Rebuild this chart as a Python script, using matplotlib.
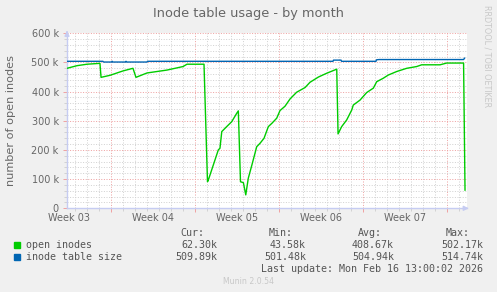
import matplotlib
matplotlib.use('Agg')
import matplotlib.pyplot as plt
import matplotlib.transforms as mtransforms
from matplotlib.ticker import FixedLocator, NullFormatter

# time axis: days since the start of Week 04
green_days = [-3.67, -2.83, -2.0, -0.92, -0.83, -0.08, 1.0, 1.83, 2.08, 3.0, 4.67, 6.0, 6.33,
              7.75, 8.04, 8.11, 8.53, 8.94, 9.08, 9.23, 9.64, 10.06, 10.48, 10.61, 10.79, 11.03,
              11.23, 11.44, 11.75, 12.14, 12.42, 12.75, 13.11, 13.42, 13.81, 14.08, 14.5, 14.92,
              15.47, 16.17, 16.58, 17.28, 17.97, 18.81, 18.92, 19.22, 19.64, 20.06, 20.19, 20.75,
              21.31, 21.86, 22.14, 22.69, 23.11, 23.81, 24.64, 25.47, 25.89, 27.42, 27.97, 29.38,
              29.5]
green_k = [480, 489, 494, 497, 449, 456, 471, 480, 449, 464, 474, 486, 494,
           494, 91, 97, 149, 200, 206, 263, 280, 297, 326, 334, 91, 88,
           46, 103, 150, 211, 223, 240, 280, 292, 309, 335, 350, 375,
           398, 414, 432, 450, 463, 477, 255, 280, 303, 337, 354, 371,
           397, 412, 434, 446, 457, 469, 480, 486, 492, 492, 498, 498,
           62.3]

blue_days = [-3.67, -0.67, -0.62, 0.05, 0.1, 0.15, 1.2, 1.25, 1.3, 3.0, 3.04, 18.5, 18.54,
             19.17, 19.21, 22.08, 22.12, 22.33, 29.38, 29.46]
blue_k = [504, 504, 501.5, 501.5, 504, 501.5, 501.5, 504, 501.5, 501.5, 504, 504, 508,
          508, 504, 504, 509, 510, 510, 514.7]

week_starts = [0, 7, 14, 21, 28]
week_labels = ['Week 03', 'Week 04', 'Week 05', 'Week 06', 'Week 07']
week_label_pos = [-3.5, 3.5, 10.5, 17.5, 24.5]
y_ticks = [0, 100, 200, 300, 400, 500, 600]
y_labels = ['0', '100 k', '200 k', '300 k', '400 k', '500 k', '600 k']

legend_rows = [
    ('open inodes', '#00CC00', '62.30k', '43.58k', '408.67k', '502.17k'),
    ('inode table size', '#0066B3', '509.89k', '501.48k', '504.94k', '514.74k'),
]

W, H = 497, 292
BG = '#F0F0F0'
FONT = '#666666'
AXIS = '#C6CCF2'
GRID = '#D2D2D2'
MGRID = '#EFA3A3'


def fx(x):
    return x / W


def fy(y):
    return 1 - y / H


fig = plt.figure(figsize=(W / 100, H / 100), dpi=100, facecolor=BG)
left, right, top, bottom = 67, 466.7, 33.3, 208.3
ax = fig.add_axes([fx(left), fy(bottom), fx(right - left), (bottom - top) / H])
ax.set_facecolor('white')

ax.set_xlim(-3.667, 29.64)
ax.set_ylim(0, 600)

# grid: days / weeks, 20k / 100k
ax.xaxis.set_major_locator(FixedLocator(week_starts))
ax.xaxis.set_minor_locator(FixedLocator([d for d in range(-3, 30) if d % 7 != 0]))
ax.yaxis.set_major_locator(FixedLocator(y_ticks))
ax.yaxis.set_minor_locator(FixedLocator([v for v in range(20, 600, 20) if v % 100 != 0]))
ax.grid(which='minor', color=GRID, linestyle=(0, (1, 1.6)), linewidth=0.72)
ax.grid(which='major', color=MGRID, linestyle=(0, (1, 1.6)), linewidth=0.72)
ax.set_axisbelow(True)

ax.xaxis.set_major_formatter(NullFormatter())
ax.set_yticklabels(y_labels)
ax.tick_params(axis='y', which='major', length=3, width=0.72, color=MGRID,
               labelsize=7, labelcolor=FONT, pad=3)
ax.tick_params(axis='y', which='minor', length=2, width=0.72, color=GRID)
ax.tick_params(axis='x', which='major', length=3, width=0.72, color=MGRID)
ax.tick_params(axis='x', which='minor', length=2, width=0.72, color=GRID)

trans = mtransforms.blended_transform_factory(ax.transData, ax.transAxes)
for pos, lab in zip(week_label_pos, week_labels):
    ax.text(pos, -0.055, lab, transform=trans, ha='center', va='center',
            fontsize=7, color=FONT)

for s in ['top', 'right']:
    ax.spines[s].set_visible(False)
for s in ['left', 'bottom']:
    ax.spines[s].set_color(AXIS)
    ax.spines[s].set_linewidth(1)

# axis arrows
ax.annotate('', xy=(1.012, 0), xytext=(0.99, 0), xycoords='axes fraction',
            arrowprops=dict(arrowstyle='-|>', color=AXIS, lw=1, mutation_scale=7),
            annotation_clip=False)
ax.annotate('', xy=(0, 1.03), xytext=(0, 0.99), xycoords='axes fraction',
            arrowprops=dict(arrowstyle='-|>', color=AXIS, lw=1, mutation_scale=7),
            annotation_clip=False)

ax.plot(green_days, green_k, color='#00CC00', linewidth=1.0, zorder=3)
ax.plot(blue_days, blue_k, color='#0066B3', linewidth=1.0, zorder=3)

# titles
fig.text(fx(248.5), fy(13), 'Inode table usage - by month', ha='center', va='center',
         fontsize=9.3, color=FONT)
fig.text(fx(11.5), fy(120), 'number of open inodes', rotation=90, ha='center', va='center',
         fontsize=8.1, color=FONT)
fig.text(fx(487.5), fy(56), 'RRDTOOL / TOBI OETIKER', rotation=-90, ha='center', va='center',
         fontsize=5.8, color='#C8C8C8')

# legend
mono = dict(family='DejaVu Sans Mono', fontsize=7.2, color='#555555', va='center')
for name, xr in [('Cur:', 204), ('Min:', 293), ('Avg:', 382), ('Max:', 470)]:
    fig.text(fx(xr), fy(232.7), name, ha='right', **mono)
for i, (name, col, cur, mn, avg, mx) in enumerate(legend_rows):
    yy = 244.7 + 12 * i
    fig.patches.append(plt.Rectangle((fx(14), fy(yy + 3)), fx(6), 6 / H, color=col,
                                     transform=fig.transFigure, figure=fig))
    fig.text(fx(26), fy(yy), name, ha='left', **mono)
    for v, xr in zip([cur, mn, avg, mx], [217, 306, 394, 483]):
        fig.text(fx(xr), fy(yy), v, ha='right', **mono)
fig.text(fx(483), fy(268.7), 'Last update: Mon Feb 16 13:00:02 2026', ha='right', **mono)
fig.text(fx(248.5), fy(281), 'Munin 2.0.54', ha='center', va='center', fontsize=5.6,
         color='#C8C8C8')

fig.savefig('out.png', dpi=100, facecolor=BG)
